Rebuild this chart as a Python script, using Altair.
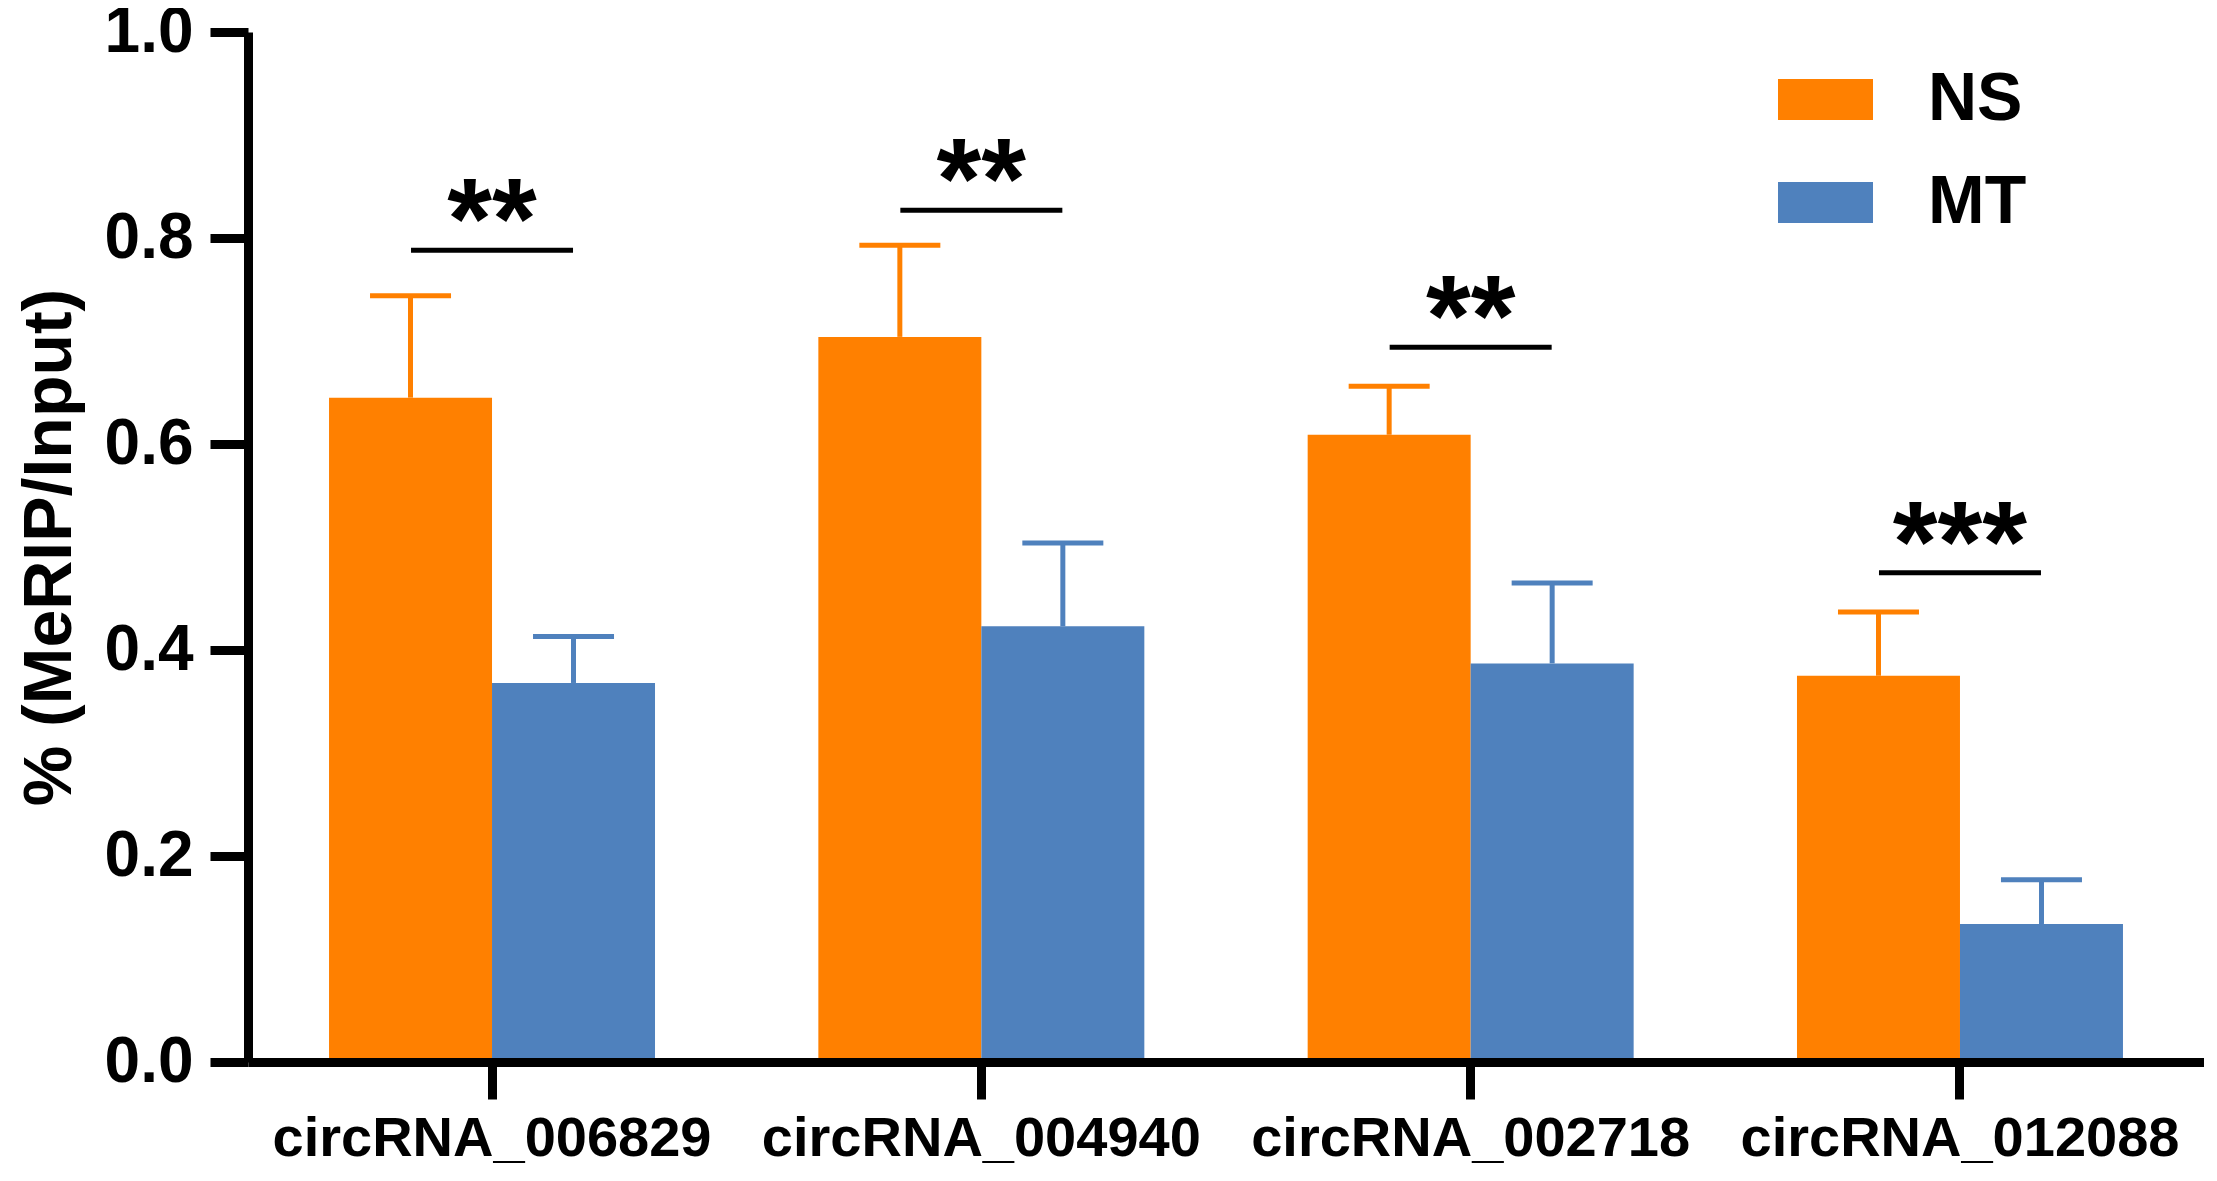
import altair as alt
import pandas as pd

# ---- data ----
genes = ["circRNA_006829", "circRNA_004940", "circRNA_002718", "circRNA_012088"]
groups = ["NS", "MT"]
ns_mean = [0.645, 0.704, 0.609, 0.375]
ns_upper = [0.744, 0.793, 0.656, 0.437]
mt_mean = [0.368, 0.423, 0.387, 0.134]
mt_upper = [0.413, 0.504, 0.465, 0.177]
sig_y = [0.788, 0.827, 0.694, 0.475]
sig_label = ["**", "**", "**", "***"]
y_ticks = [0.0, 0.2, 0.4, 0.6, 0.8, 1.0]
colors = ["#FF8000", "#4F81BD"]

rows = []
for i, g in enumerate(genes):
    rows.append({"gene": g, "group": "NS", "mean": ns_mean[i], "upper": ns_upper[i]})
    rows.append({"gene": g, "group": "MT", "mean": mt_mean[i], "upper": mt_upper[i]})
df = pd.DataFrame(rows)
sig = pd.DataFrame({"gene": genes, "y": sig_y, "label": sig_label})

FONT = "Liberation Sans"
W, H = 1956, 1030

xscale = alt.Scale(domain=genes, paddingInner=0.3338, paddingOuter=0.1656, align=0.5)
yscale = alt.Scale(domain=[0, 1], nice=False, zero=True)
offscale = alt.Scale(domain=groups, paddingInner=0, paddingOuter=0)
cscale = alt.Scale(domain=groups, range=colors)

xaxis = alt.Axis(
    title=None, labelAngle=0, labelFont=FONT, labelFontSize=56, labelFontWeight="bold",
    labelColor="black", labelPadding=56, labelBaseline="alphabetic", labelLimit=0,
    domainColor="black", domainWidth=9, tickColor="black", tickWidth=9, tickSize=37,
    grid=False, zindex=1,
)
yaxis = alt.Axis(
    title="% (MeRIP/Input)", values=y_ticks, format=".1f",
    labelFont=FONT, labelFontSize=64, labelFontWeight="bold", labelColor="black",
    labelPadding=17, domainColor="black", domainWidth=9, tickColor="black",
    tickWidth=9, tickSize=38, grid=False, zindex=1,
    titleFont=FONT, titleFontSize=68, titleFontWeight="bold", titleColor="black",
    titleX=-178, titleY=H / 2, titleBaseline="alphabetic", titleAlign="center", titleAngle=-90,
)

legend = alt.Legend(
    title=None, orient="none", legendX=1530, legendY=20,
    symbolType="M-1,-0.43H1V0.43H-1Z", symbolSize=9025, symbolStrokeWidth=0,
    symbolOpacity=1, labelFont=FONT, labelFontSize=68, labelFontWeight="bold",
    labelColor="black", labelOffset=55, rowPadding=21, padding=0,
)

base = alt.Chart(df)

bars = base.mark_bar(opacity=1).encode(
    x=alt.X("gene:N", scale=xscale, axis=xaxis, sort=genes),
    xOffset=alt.XOffset("group:N", scale=offscale, sort=groups),
    y=alt.Y("mean:Q", scale=yscale, axis=yaxis),
    color=alt.Color("group:N", scale=cscale, legend=legend, sort=groups),
)

err = base.mark_rule(strokeWidth=5, opacity=1).encode(
    x=alt.X("gene:N", sort=genes),
    xOffset=alt.XOffset("group:N", sort=groups),
    y="mean:Q",
    y2="upper:Q",
    color=alt.Color("group:N", legend=None),
)

caps = base.mark_tick(orient="horizontal", thickness=5, size=81, opacity=1).encode(
    x=alt.X("gene:N", sort=genes),
    xOffset=alt.XOffset("group:N", sort=groups),
    y="upper:Q",
    color=alt.Color("group:N", legend=None),
)

sig_base = alt.Chart(sig)
sig_lines = sig_base.mark_tick(
    orient="horizontal", thickness=5, size=162, color="black", opacity=1
).encode(
    x=alt.X("gene:N", sort=genes),
    y="y:Q",
)
stars = sig_base.mark_text(
    font=FONT, fontSize=115, fontWeight="bold", color="black",
    baseline="alphabetic", align="center", dy=8,
).encode(
    x=alt.X("gene:N", sort=genes),
    y="y:Q",
    text="label:N",
)

chart = alt.layer(bars, err, caps, sig_lines, stars).properties(
    width=W, height=H,
    padding={"left": 240, "top": 24, "right": 0, "bottom": 106},
    autosize=alt.AutoSizeParams(type="none"),
    background="white",
).configure_view(stroke=None)

chart.save("out.html", embed_options={"renderer": "svg", "actions": False})
